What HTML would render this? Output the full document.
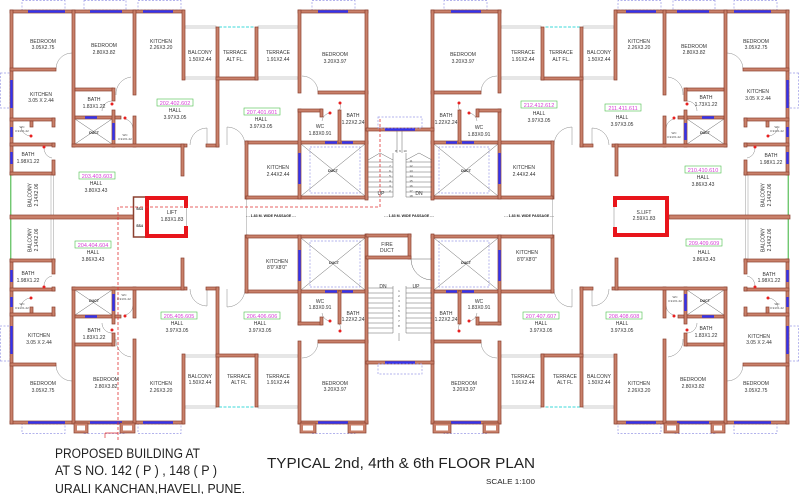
<!DOCTYPE html>
<html><head><meta charset="utf-8"><style>
html,body{margin:0;padding:0;background:#fff;}
svg{display:block;}
.t{font-family:"Liberation Sans",sans-serif;font-size:5px;fill:#333;text-anchor:middle;}
.s{font-family:"Liberation Sans",sans-serif;font-size:3px;fill:#444;text-anchor:middle;}
.n{font-family:"Liberation Sans",sans-serif;font-size:5.5px;fill:#d63fd6;text-anchor:middle;}
.p{font-family:"Liberation Sans",sans-serif;font-size:3.6px;font-weight:bold;fill:#222;text-anchor:middle;}
.d{font-family:"Liberation Sans",sans-serif;font-size:3.5px;font-weight:bold;fill:#222;text-anchor:middle;}
.b{font-family:"Liberation Sans",sans-serif;fill:#222;}
</style></head><body>
<svg xmlns="http://www.w3.org/2000/svg" width="800" height="494" viewBox="0 0 800 494">
<defs>
<g id="q">
 <g fill="none" stroke="#9a9ae6" stroke-width="0.7" stroke-dasharray="2,1.5">
  <rect x="22" y="0.5" width="43" height="9.5"/>
  <rect x="84" y="0.5" width="42" height="9.5"/>
  <rect x="138" y="0.5" width="43" height="9.5"/>
  <rect x="312" y="0.5" width="43" height="9.5"/>
  <rect x="0.5" y="73" width="9.5" height="35"/>
  <rect x="310" y="147" width="50" height="46"/>
 </g>
 <g fill="none" stroke="#999" stroke-width="0.5">
  <rect x="185" y="26" width="31" height="2"/>
  <rect x="185" y="77" width="31" height="2"/>
  <rect x="258" y="26" width="40" height="2"/>
  <rect x="258" y="77" width="40" height="2"/>
  <path d="M51,175V217M53.5,175V217"/>
  <path d="M246.5,199V217"/>
 </g>
 <path d="M219,27H255" stroke="#3cd8d8" stroke-width="1" stroke-dasharray="3,1.5"/>
 <path d="M10.8,175V217" stroke="#35b035" stroke-width="1"/>
 <g fill="none" stroke="#555" stroke-width="0.45">
  <path d="M75,119L112,144M112,119L75,144"/>
  <path d="M301,144L365,196M365,144L301,196"/>
 </g>
 <g fill="none" stroke="#888" stroke-width="0.5">
  <path d="M56,69A16,16 0 0 1 72,53"/>
  <path d="M116,95A17,17 0 0 1 131,77"/>
  <path d="M190,145A17,17 0 0 1 207,128M207,128V145"/>
  <path d="M227,127A18,18 0 0 1 245,145M227,127V145"/>
  <path d="M302,76A16,16 0 0 1 318,92"/>
  <path d="M112,101A10,10 0 0 0 102,111"/>
  <path d="M125,119A10,10 0 0 1 133,128"/>
  <path d="M330,113A9,9 0 0 0 322,121"/>
  <path d="M340,103A9,9 0 0 1 338,112"/>
  <path d="M31,136A10,10 0 0 1 21,127"/>
  <path d="M44,147A10,10 0 0 0 52,158"/>
 </g>
 <g fill="#c9806a" stroke="#8b4030" stroke-width="0.7">
  <rect x="10" y="10" width="174" height="3"/>
  <rect x="298" y="10" width="70" height="3"/>
  <rect x="10" y="10" width="3" height="165"/>
  <rect x="10" y="68" width="46" height="3"/>
  <rect x="72" y="10" width="3" height="137"/>
  <rect x="133" y="10" width="3" height="85"/>
  <rect x="75" y="88" width="38" height="3"/>
  <rect x="75" y="116" width="40" height="3"/>
  <rect x="112" y="88" width="3" height="13"/>
  <rect x="112" y="110" width="3" height="37"/>
  <rect x="115" y="116" width="6" height="3"/>
  <rect x="133" y="116" width="3" height="31"/>
  <rect x="72" y="144" width="115" height="3"/>
  <rect x="182" y="10" width="3" height="70"/>
  <rect x="181" y="144" width="3" height="32"/>
  <rect x="206" y="144" width="13" height="3"/>
  <rect x="216" y="27" width="3" height="120"/>
  <rect x="216" y="77" width="42" height="3"/>
  <rect x="255" y="27" width="3" height="53"/>
  <rect x="246" y="141" width="122" height="3"/>
  <rect x="245" y="141" width="3" height="58"/>
  <rect x="246" y="196" width="122" height="3"/>
  <rect x="298" y="10" width="3" height="83"/>
  <rect x="318" y="91" width="50" height="3"/>
  <rect x="298" y="109" width="3" height="90"/>
  <rect x="298" y="109" width="24" height="3"/>
  <rect x="320" y="109" width="3" height="8"/>
  <rect x="338" y="110" width="3" height="33"/>
  <rect x="365" y="10" width="3" height="190"/>
  <rect x="10" y="118" width="45" height="3"/>
  <rect x="10" y="143" width="45" height="3"/>
  <rect x="10" y="172" width="45" height="3"/>
  <rect x="52" y="118" width="3" height="9"/>
  <rect x="52" y="143" width="3" height="4"/>
  <rect x="52" y="160" width="3" height="15"/>
  <rect x="30" y="121" width="3" height="6"/>
 </g>
 <g fill="#3434ee">
  <rect x="28" y="10.3" width="37" height="2.4"/>
  <rect x="90" y="10.3" width="32" height="2.4"/>
  <rect x="143" y="10.3" width="30" height="2.4"/>
  <rect x="318" y="10.3" width="30" height="2.4"/>
  <rect x="10.3" y="80" width="2.4" height="28"/>
  <rect x="10.3" y="127" width="2.4" height="10"/>
  <rect x="10.3" y="152" width="2.4" height="12"/>
  <rect x="85" y="116.3" width="12" height="2.4"/>
  <rect x="112.3" y="123" width="2.4" height="17"/>
  <rect x="325" y="141.3" width="12" height="2.4"/>
  <rect x="342" y="141.3" width="11" height="2.4"/>
  <rect x="298.3" y="153" width="2.4" height="31"/>
 </g>
 <g fill="#e82020">
  <circle cx="112" cy="104" r="1.5"/>
  <circle cx="125" cy="118" r="1.5"/>
  <circle cx="31" cy="136" r="1.5"/>
  <circle cx="44" cy="147" r="1.5"/>
  <circle cx="340" cy="103" r="1.5"/>
  <circle cx="330" cy="113" r="1.5"/>
 </g>
</g>
</defs>

<use href="#q"/>
<use href="#q" transform="matrix(-1 0 0 1 799 0)"/>
<use href="#q" transform="matrix(1 0 0 -1 0 434)"/>
<use href="#q" transform="matrix(-1 0 0 -1 799 434)"/>

<g fill="#c9806a" stroke="#8b4030" stroke-width="0.7">
 <rect x="10" y="215" width="124" height="4"/>
 <rect x="669" y="215" width="121" height="4"/>
 <rect x="366" y="128" width="68" height="3"/>
 <rect x="366" y="234" width="45" height="3"/>
 <rect x="408" y="234" width="3" height="25"/>
 <rect x="366" y="256" width="45" height="3"/>
 <rect x="366" y="361" width="68" height="3"/>
 <rect x="74" y="423" width="14" height="10"/>
 <rect x="120" y="423" width="15" height="10"/>
 <rect x="300" y="423" width="16" height="10"/>
 <rect x="348" y="423" width="18" height="10"/>
 <rect x="433" y="423" width="18" height="10"/>
 <rect x="483" y="423" width="16" height="10"/>
 <rect x="664" y="423" width="15" height="10"/>
 <rect x="711" y="423" width="14" height="10"/>
</g>
<g fill="#fff">
 <rect x="77" y="425.5" width="8" height="5"/>
 <rect x="123" y="425.5" width="9" height="5"/>
 <rect x="303" y="425.5" width="10" height="5"/>
 <rect x="351" y="425.5" width="12" height="5"/>
 <rect x="436" y="425.5" width="12" height="5"/>
 <rect x="486" y="425.5" width="10" height="5"/>
 <rect x="667" y="425.5" width="9" height="5"/>
 <rect x="714" y="425.5" width="8" height="5"/>
</g>
<g fill="#3434ee">
 <rect x="385" y="128.3" width="30" height="2.4"/>
 <rect x="385" y="361.3" width="30" height="2.4"/>
</g>
<g fill="none" stroke="#9a9ae6" stroke-width="0.7" stroke-dasharray="2,1.5">
 <rect x="378" y="117" width="44" height="11"/>
 <rect x="378" y="364" width="44" height="10"/>
</g>

<g fill="none" stroke="#666" stroke-width="0.5">
 <path d="M368,162H393M368,167H393M368,172H393M368,177H393M368,182H393M368,187H393M368,192H393M368,197H393"/>
 <path d="M406,162H432M406,167H432M406,172H432M406,177H432M406,182H432M406,187H432M406,192H432M406,197H432"/>
 <path d="M368,160L380,153L393,160M406,160L419,153L432,160"/>
 <path d="M393,153V197M406,153V197M397,131V153M402,131V153"/>
 <path d="M368,288H393M368,293H393M368,298H393M368,303H393M368,308H393M368,313H393M368,318H393M368,323H393M368,328H393M368,333H393"/>
 <path d="M406,288H432M406,293H432M406,298H432M406,303H432M406,308H432M406,313H432M406,318H432M406,323H432M406,328H432M406,333H432"/>
 <path d="M393,286V333M406,286V333M399,333V341"/>
 <path d="M411,259H432M411,259A21,21 0 0 0 432,280"/>
</g>
<g class="s">
 <text x="396" y="152">8</text><text x="400" y="152">9</text><text x="405" y="152">10</text>
 <text x="411" y="162">11</text><text x="411" y="167">12</text><text x="411" y="172">13</text><text x="411" y="177">14</text>
 <text x="411" y="182">15</text><text x="411" y="187">16</text><text x="411" y="192">17</text><text x="411" y="197">18</text>
 <text x="390" y="167">7</text><text x="390" y="172">6</text><text x="390" y="177">5</text><text x="390" y="182">4</text>
 <text x="390" y="187">3</text><text x="390" y="192">2</text>
 <text x="399" y="292">1</text><text x="399" y="297">2</text><text x="399" y="302">3</text><text x="399" y="307">4</text>
 <text x="399" y="312">5</text><text x="399" y="317">6</text><text x="399" y="322">7</text><text x="399" y="327">8</text>
</g>
<g class="t">
 <text x="381" y="195">UP</text><text x="419" y="195">DN</text>
 <text x="383" y="288">DN</text><text x="416" y="288">UP</text>
</g>

<rect x="133.5" y="197" width="12.5" height="40" fill="#fff" stroke="#8b4030" stroke-width="1.5"/>
<text class="d" x="139.5" y="210">SS4</text>
<text class="d" x="139.5" y="227">SS4</text>
<path d="M186.5,208V226" stroke="#999" stroke-width="0.6"/>
<path d="M147,238V198H186V208M186,226V236H147" fill="none" stroke="#e8151b" stroke-width="4"/>
<path d="M615,207V198H667V235H615V227" fill="none" stroke="#e8151b" stroke-width="4"/>
<path d="M614,207V227" stroke="#999" stroke-width="0.6"/>

<path d="M118,440V207H380V118" fill="none" stroke="#e03030" stroke-width="0.8" stroke-dasharray="3,2"/>
<path d="M105,433H118M105,433V438" fill="none" stroke="#e03030" stroke-width="0.7"/>

<text class="p" x="271" y="217">- - 1.83 M. WIDE PASSAGE - -</text>
<text class="p" x="409" y="217">- - 1.83 M. WIDE PASSAGE - -</text>
<text class="p" x="529" y="217">- - 1.83 M. WIDE PASSAGE - -</text>

<g class="d">
 <text x="94" y="134">DUCT</text><text x="705" y="134">DUCT</text>
 <text x="94" y="302">DUCT</text><text x="705" y="302">DUCT</text>
 <text x="333" y="172">DUCT</text><text x="466" y="172">DUCT</text>
 <text x="334" y="264">DUCT</text><text x="466" y="264">DUCT</text>
</g>
<g class="s">
 <text x="22" y="128">WC</text><text x="22" y="132">0.91X1.22</text>
 <text x="125" y="136">WC</text><text x="125" y="140">0.91X1.22</text>
 <text x="22" y="305">WC</text><text x="22" y="309">0.91X1.22</text>
 <text x="124" y="296">WC</text><text x="124" y="300">0.91X1.22</text>
 <text x="777" y="128">WC</text><text x="777" y="132">0.91X1.22</text>
 <text x="674" y="134">WC</text><text x="674" y="138">0.91X1.22</text>
 <text x="777" y="305">WC</text><text x="777" y="309">0.91X1.22</text>
 <text x="675" y="298">WC</text><text x="675" y="302">0.91X1.22</text>
</g>

<g fill="#fff" stroke="#4cbf4c" stroke-width="0.6">
 <rect x="157" y="99" width="36" height="7"/>
 <rect x="244" y="108" width="36" height="7"/>
 <rect x="79" y="172" width="36" height="7"/>
 <rect x="75" y="241" width="36" height="7"/>
 <rect x="161" y="312" width="36" height="7"/>
 <rect x="244" y="312" width="36" height="7"/>
 <rect x="521" y="101" width="36" height="7"/>
 <rect x="605" y="104" width="36" height="7"/>
 <rect x="685" y="166" width="36" height="7"/>
 <rect x="686" y="239" width="36" height="7"/>
 <rect x="606" y="312" width="36" height="7"/>
 <rect x="523" y="312" width="36" height="7"/>
</g>
<g class="n">
 <text x="175" y="105">202.402.602</text>
 <text x="262" y="114">207.401.601</text>
 <text x="97" y="178">203.403.603</text>
 <text x="93" y="247">204.404.604</text>
 <text x="179" y="318">205.405.605</text>
 <text x="262" y="318">206.406.606</text>
 <text x="539" y="107">212.412.612</text>
 <text x="623" y="110">211.411.611</text>
 <text x="703" y="172">210.410.610</text>
 <text x="704" y="245">209.409.609</text>
 <text x="624" y="318">208.408.608</text>
 <text x="541" y="318">207.407.607</text>
</g>

<g class="t">
 <text x="43" y="43">BEDROOM</text><text x="43" y="49">3.05X2.75</text>
 <text x="104" y="47">BEDROOM</text><text x="104" y="54">2.80X3.82</text>
 <text x="161" y="43">KITCHEN</text><text x="161" y="49">2.26X3.20</text>
 <text x="200" y="54">BALCONY</text><text x="200" y="61">1.50X2.44</text>
 <text x="235" y="54">TERRACE</text><text x="235" y="61">ALT FL.</text>
 <text x="278" y="54">TERRACE</text><text x="278" y="61">1.91X2.44</text>
 <text x="335" y="56">BEDROOM</text><text x="335" y="63">3.20X3.97</text>
 <text x="41" y="96">KITCHEN</text><text x="41" y="102">3.05 X 2.44</text>
 <text x="94" y="101">BATH</text><text x="94" y="108">1.83X1.22</text>
 <text x="175" y="112">HALL</text><text x="175" y="119">3.97X3.05</text>
 <text x="261" y="121">HALL</text><text x="261" y="128">3.97X3.05</text>
 <text x="320" y="128">WC</text><text x="320" y="135">1.83X0.91</text>
 <text x="353" y="117">BATH</text><text x="353" y="124">1.22X2.24</text>
 <text x="278" y="169">KITCHEN</text><text x="278" y="176">2.44X2.44</text>
 <text x="28" y="156">BATH</text><text x="28" y="163">1.98X1.22</text>
 <text x="96" y="185">HALL</text><text x="96" y="192">3.80X3.43</text>
 <text x="172" y="214">LIFT</text><text x="172" y="221">1.83X1.83</text>
 <text x="93" y="254">HALL</text><text x="93" y="261">3.86X3.43</text>
 <text x="28" y="275">BATH</text><text x="28" y="282">1.98X1.22</text>
 <text x="39" y="337">KITCHEN</text><text x="39" y="344">3.05 X 2.44</text>
 <text x="43" y="385">BEDROOM</text><text x="43" y="392">3.05X2.75</text>
 <text x="106" y="381">BEDROOM</text><text x="106" y="388">2.80X3.82</text>
 <text x="94" y="332">BATH</text><text x="94" y="339">1.83X1.22</text>
 <text x="177" y="325">HALL</text><text x="177" y="332">3.97X3.05</text>
 <text x="161" y="385">KITCHEN</text><text x="161" y="392">2.26X3.20</text>
 <text x="200" y="378">BALCONY</text><text x="200" y="384">1.50X2.44</text>
 <text x="239" y="378">TERRACE</text><text x="239" y="384">ALT FL</text>
 <text x="260" y="325">HALL</text><text x="260" y="332">3.97X3.05</text>
 <text x="278" y="378">TERRACE</text><text x="278" y="384">1.91X2.44</text>
 <text x="277" y="263">KITCHEN</text><text x="277" y="269">8'0"X8'0"</text>
 <text x="320" y="303">WC</text><text x="320" y="309">1.83X0.91</text>
 <text x="353" y="315">BATH</text><text x="353" y="321">1.22X2.24</text>
 <text x="335" y="385">BEDROOM</text><text x="335" y="391">3.20X3.97</text>
 <text x="387" y="246">FIRE</text><text x="387" y="252">DUCT</text>
 <text x="463" y="56">BEDROOM</text><text x="463" y="63">3.20X3.97</text>
 <text x="523" y="54">TERRACE</text><text x="523" y="61">1.91X2.44</text>
 <text x="561" y="54">TERRACE</text><text x="561" y="61">ALT FL.</text>
 <text x="599" y="54">BALCONY</text><text x="599" y="61">1.50X2.44</text>
 <text x="639" y="43">KITCHEN</text><text x="639" y="49">2.26X3.20</text>
 <text x="694" y="48">BEDROOM</text><text x="694" y="54">2.80X3.82</text>
 <text x="756" y="43">BEDROOM</text><text x="756" y="49">3.05X2.75</text>
 <text x="758" y="93">KITCHEN</text><text x="758" y="100">3.05 X 2.44</text>
 <text x="706" y="99">BATH</text><text x="706" y="106">1.73X1.22</text>
 <text x="479" y="129">WC</text><text x="479" y="136">1.83X0.91</text>
 <text x="446" y="117">BATH</text><text x="446" y="124">1.22X2.24</text>
 <text x="524" y="169">KITCHEN</text><text x="524" y="176">2.44X2.44</text>
 <text x="539" y="115">HALL</text><text x="539" y="122">3.97X3.05</text>
 <text x="622" y="119">HALL</text><text x="622" y="126">3.97X3.05</text>
 <text x="703" y="179">HALL</text><text x="703" y="186">3.86X3.43</text>
 <text x="771" y="157">BATH</text><text x="771" y="164">1.98X1.22</text>
 <text x="644" y="214">S.LIFT</text><text x="644" y="220">2.59X1.83</text>
 <text x="704" y="254">HALL</text><text x="704" y="261">3.86X3.43</text>
 <text x="769" y="276">BATH</text><text x="769" y="282">1.98X1.22</text>
 <text x="759" y="338">KITCHEN</text><text x="759" y="344">3.05 X 2.44</text>
 <text x="756" y="385">BEDROOM</text><text x="756" y="392">3.05X2.75</text>
 <text x="693" y="381">BEDROOM</text><text x="693" y="388">2.80X3.82</text>
 <text x="706" y="330">BATH</text><text x="706" y="337">1.83X1.22</text>
 <text x="639" y="385">KITCHEN</text><text x="639" y="392">2.26X3.20</text>
 <text x="599" y="378">BALCONY</text><text x="599" y="384">1.50X2.44</text>
 <text x="565" y="378">TERRACE</text><text x="565" y="384">ALT FL</text>
 <text x="622" y="325">HALL</text><text x="622" y="332">3.97X3.05</text>
 <text x="541" y="325">HALL</text><text x="541" y="332">3.97X3.05</text>
 <text x="523" y="378">TERRACE</text><text x="523" y="384">1.91X2.44</text>
 <text x="527" y="254">KITCHEN</text><text x="527" y="261">8'0"X8'0"</text>
 <text x="479" y="303">WC</text><text x="479" y="309">1.83X0.91</text>
 <text x="446" y="315">BATH</text><text x="446" y="321">1.22X2.24</text>
 <text x="464" y="385">BEDROOM</text><text x="464" y="391">3.20X3.97</text>
</g>
<g class="t">
 <text transform="translate(31.5,195) rotate(-90)">BALCONY</text>
 <text transform="translate(38,195) rotate(-90)">2.14X2.06</text>
 <text transform="translate(31.5,240) rotate(-90)">BALCONY</text>
 <text transform="translate(38,240) rotate(-90)">2.14X2.06</text>
 <text transform="translate(764.5,195) rotate(-90)">BALCONY</text>
 <text transform="translate(771,195) rotate(-90)">2.14X2.06</text>
 <text transform="translate(764.5,240) rotate(-90)">BALCONY</text>
 <text transform="translate(771,240) rotate(-90)">2.14X2.06</text>
</g>

<text class="b" x="55" y="458" font-size="13.5" textLength="145" lengthAdjust="spacingAndGlyphs">PROPOSED BUILDING AT</text>
<text class="b" x="55" y="475" font-size="13.5" textLength="162" lengthAdjust="spacingAndGlyphs">AT S NO. 142 ( P ) , 148 ( P )</text>
<text class="b" x="55" y="493" font-size="13" textLength="190" lengthAdjust="spacingAndGlyphs">URALI KANCHAN,HAVELI, PUNE.</text>
<text class="b" x="267" y="468" font-size="15" textLength="268" lengthAdjust="spacingAndGlyphs">TYPICAL 2nd, 4rth &amp; 6th FLOOR PLAN</text>
<text class="b" x="486" y="484" font-size="7.5" fill="#444" textLength="49" lengthAdjust="spacingAndGlyphs">SCALE 1:100</text>
</svg>
</body></html>
